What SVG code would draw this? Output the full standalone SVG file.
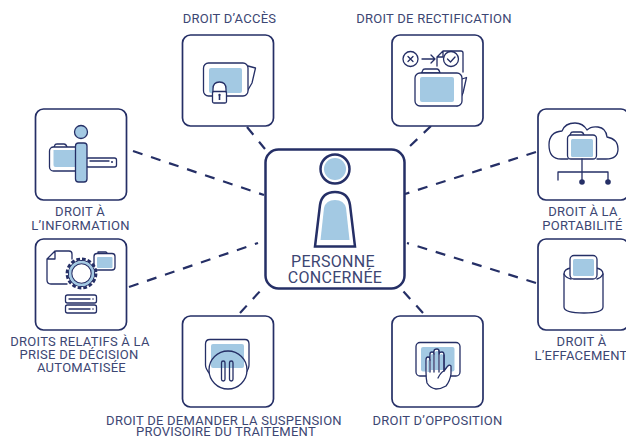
<svg xmlns="http://www.w3.org/2000/svg" width="626" height="437" viewBox="0 0 626 437">
<style>
text{font-family:"Roboto","Liberation Sans",sans-serif;font-size:13px;letter-spacing:.25px;fill:#3c4673;text-anchor:middle}
.big{font-size:16px;letter-spacing:.3px}
.box{fill:#fff;stroke:#252f66;stroke-width:1.700}
.l{fill:none;stroke:#252f66;stroke-width:1.300;stroke-linecap:round;stroke-linejoin:round}
.w{fill:#fff;stroke:#252f66;stroke-width:1.300;stroke-linejoin:round}
.b{fill:#a3c9e3}
.bs{fill:#a3c9e3;stroke:#252f66;stroke-width:1.300}
.d{fill:none;stroke:#252f66;stroke-width:2.200;stroke-dasharray:10 9}
.c{fill:#252f66}
</style>
<rect width="626" height="437" fill="#fff"/>
<g id="connectors">
<path class="d" d="M247 127L265 149"/>
<path class="d" d="M431 126L407 149"/>
<path class="d" d="M133 151L264 195"/>
<path class="d" d="M536 152L405 194"/>
<path class="d" d="M129 287L258 243"/>
<path class="d" d="M536 283L407 243"/>
<path class="d" d="M240 313L262 289"/>
<path class="d" d="M423 313L403 291"/>
</g>
<g id="personne">
<rect x="265.500" y="149.500" width="139" height="139" rx="13" fill="#fff" stroke="#252f66" stroke-width="2.500"/>
<circle cx="335" cy="169" r="14.500" fill="#fff" stroke="#252f66" stroke-width="2.500"/>
<circle cx="335" cy="169" r="11" class="b"/>
<path d="M315 246.500L320 205Q322 192 335 192Q348 192 350 205L355 246.500Z" fill="#fff" stroke="#252f66" stroke-width="2.500"/>
<path d="M320.500 240L324 208Q326 200 335 200Q344 200 346 208L349.500 240Z" class="b"/>
<text class="big" x="333" y="266.500">PERSONNE</text>
<text class="big" x="335" y="283">CONCERNÉE</text>
</g>
<g id="acces">
<rect class="box" x="182.500" y="35" width="91" height="91" rx="8"/>
<path class="l" d="M248 66L255.500 68L252 83L245 95"/>
<rect class="w" x="203.500" y="63" width="44.500" height="33" rx="5"/>
<rect class="b" x="209" y="68" width="33" height="25" rx="2"/>
<path class="l" d="M213 92V89Q213 82 219.500 82Q226 82 226 89V92" style="fill:#fff"/>
<rect class="w" x="212.500" y="91.500" width="14" height="11.500" rx="1.500"/>
<circle class="c" cx="219.500" cy="95" r="1.200"/><rect class="c" x="218.700" y="96" width="1.600" height="4"/>
</g>
<text x="229.500" y="23">DROIT D’ACCÈS</text>
<g id="rectification">
<rect class="box" x="392" y="35" width="91" height="91" rx="8"/>
<circle class="l" cx="410.500" cy="59" r="7.500"/>
<path class="l" d="M408 56.500L413 61.500M413 56.500L408 61.500M422 59H435M431 55L435 59L431 63"/>
<path class="l" d="M443 51H461Q463 51 463 53V72M443 51L437 57V66M443 51V57H437"/>
<circle class="w" cx="451" cy="59" r="7.500"/>
<path class="l" d="M447.500 59L450.500 62L455 57"/>
<path class="l" d="M462 79L466.500 77.500L463 93L457 106"/>
<path class="w" d="M421.500 73L423 70Q423 69 425 69H437Q439 69 440 73Z"/>
<rect class="w" x="415" y="73" width="47" height="33" rx="5"/>
<rect class="b" x="420" y="77" width="34" height="25" rx="2"/>
</g>
<text x="434" y="23">DROIT DE RECTIFICATION</text>
<g id="information">
<rect class="box" x="35.500" y="109" width="91" height="91" rx="8"/>
<rect class="w" x="86" y="158" width="30.500" height="9" rx="2"/>
<path class="l" d="M90 161H109"/><circle class="c" cx="112" cy="162" r="1"/>
<path class="l" d="M54 147L55 145Q55 144 57 144H64Q66 144 67 147"/>
<rect class="w" x="49.500" y="147" width="30" height="24" rx="4"/>
<path class="b" d="M53.500 150H76V167H55.500Q53.500 167 53.500 165Z"/>
<rect class="bs" x="75.500" y="143" width="11.500" height="39" rx="3"/>
<circle class="bs" cx="81" cy="132" r="6.500"/>
</g>
<text x="80" y="215.500">DROIT À</text>
<text x="80.500" y="229.500">L’INFORMATION</text>
<g id="decision">
<rect class="box" x="35.500" y="239" width="91" height="91" rx="8"/>
<path class="l" d="M56 251H69Q72 251 72 254V259M47 259L55 251V259H47V280Q47 284 51 284H67"/>
<path class="l" d="M98 253V252H106L107 253"/>
<rect class="w" x="94" y="253.500" width="21" height="16.500" rx="3"/>
<rect class="b" x="97" y="257" width="15.500" height="11" rx="1"/>
<circle cx="81.500" cy="273.500" r="14.500" fill="#fff" stroke="#252f66" stroke-width="2.800" stroke-dasharray="3.700 2.000"/>
<circle cx="81.500" cy="273.500" r="13" fill="#fff" stroke="#252f66" stroke-width="1.100"/>
<circle cx="81.500" cy="273.500" r="11.300" fill="#fff" stroke="#a3c9e3" stroke-width="2.600"/>
<circle cx="81.500" cy="273.500" r="9.700" fill="#fff" stroke="#252f66" stroke-width="1.100"/>
<rect class="w" x="65.500" y="295" width="31" height="8" rx="2"/>
<rect class="w" x="65.500" y="305" width="31" height="8" rx="2"/>
<path class="l" d="M69 299H90M69 309H90"/>
<circle class="c" cx="93" cy="299" r="0.800"/><circle class="c" cx="93" cy="309" r="0.800"/>
</g>
<text x="80" y="345.500">DROITS RELATIFS À LA</text>
<text x="79" y="358.500">PRISE DE DÉCISION</text>
<text x="81.500" y="372">AUTOMATISÉE</text>
<g id="portabilite">
<rect class="box" x="538" y="109" width="91" height="91" rx="8"/>
<path class="l" d="M568 159H561Q549 159 549 145Q549 132 562 131Q565 123 575 123Q583 123 587 130Q591 126 598 127Q606 128 607 137Q618 139 618 149Q618 159 606 159H597"/>
<path class="l" d="M570 135L571 133Q571 132 573 132H581Q583 132 584 135"/>
<rect class="w" x="567.500" y="135" width="29" height="24" rx="3.500"/>
<rect class="b" x="571" y="139" width="22" height="18" rx="1.500"/>
<path class="l" d="M582 159V182M558 180V172H608V182"/>
<circle class="c" cx="582" cy="182" r="2.800"/><circle class="c" cx="608" cy="182" r="2.800"/>
</g>
<text x="583" y="215.500">DROIT À LA</text>
<text x="582.500" y="229.500">PORTABILITÉ</text>
<g id="effacement">
<rect class="box" x="538" y="239" width="91" height="91" rx="8"/>
<path class="w" d="M564 274V307Q564 313 584 313Q603 313 603 307V274Q603 269 596 268H571Q564 269 564 274Z"/>
<path class="l" d="M564 274Q566 278 571 279M603 274Q601 278 597 279"/>
<rect class="w" x="570" y="255.500" width="27" height="23.500" rx="4"/>
<rect class="b" x="573" y="259" width="21" height="17" rx="1.500"/>
</g>
<text x="581.500" y="346">DROIT À</text>
<text x="581" y="360">L’EFFACEMENT</text>
<g id="suspension">
<rect class="box" x="182.500" y="316" width="91" height="91" rx="8"/>
<path class="w" d="M205.500 344Q205.500 339.500 210 339.500H245Q249 339.500 249 344V365Q249 369 245 374H210Q205.500 369 205.500 365Z"/>
<circle cx="228" cy="370" r="19" fill="#fff"/>
<rect class="b" x="211" y="344" width="33" height="24" rx="2"/>
<circle cx="228" cy="370" r="19" fill="none" stroke="#252f66" stroke-width="1.300"/>
<rect class="l" x="221.500" y="361" width="3.500" height="20" rx="1.750"/>
<rect class="l" x="229.500" y="361" width="3.500" height="20" rx="1.750"/>
</g>
<text x="224" y="424.500">DROIT DE DEMANDER LA SUSPENSION</text>
<text x="226" y="436">PROVISOIRE DU TRAITEMENT</text>
<g id="opposition">
<rect class="box" x="392" y="316" width="91" height="91" rx="8"/>
<rect class="w" x="416" y="342.500" width="44" height="33.500" rx="4"/>
<rect class="b" x="421" y="347" width="33.500" height="24.500" rx="2"/>
<path d="M426 372V360Q426 357 428 357Q430 357 430 360V354Q430 352 432 352Q434 352 434 354V351Q434 349 437 349Q439 349 439 351V354Q439 352 442 352Q444 352 444 355V371L447 367Q449 364 451 366V374Q450 381 446 386Q441 389 436 389Q430 388 427 383Q426 378 426 372Z" fill="#fff" stroke="#252f66" stroke-width="1.300" stroke-linejoin="round"/>
<path class="b" d="M427.500 372V360.500Q428 358.500 429 361V372ZM431 370V355Q432 353 433.500 355V370ZM435 370V352Q437 350 438.500 352V370ZM440 370V355Q441.500 353 443 355V370Z"/>
<path class="l" d="M430 360V372M434 354V372M439 351V372M444 355V371M444 371Q441 372 438 378"/>
</g>
<text x="437.500" y="425">DROIT D’OPPOSITION</text>
</svg>
